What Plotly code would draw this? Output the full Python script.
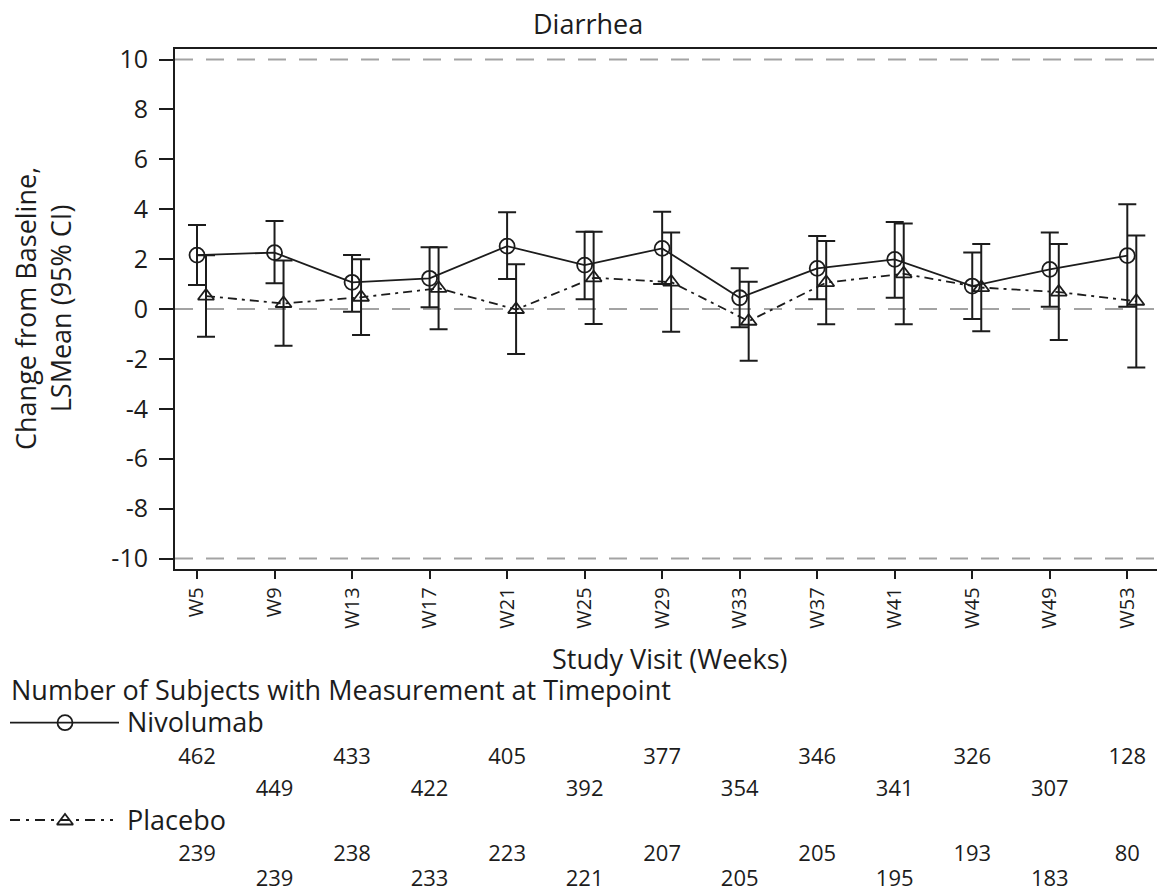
import plotly.graph_objects as go

# ---------------- data ----------------
visits = ["W5", "W9", "W13", "W17", "W21", "W25", "W29", "W33", "W37", "W41", "W45", "W49", "W53"]

nivo_mean = [2.16, 2.26, 1.07, 1.23, 2.52, 1.76, 2.43, 0.45, 1.63, 1.99, 0.92, 1.59, 2.14]
nivo_lower = [0.96, 1.03, -0.11, 0.07, 1.20, 0.39, 1.00, -0.73, 0.39, 0.45, -0.40, 0.09, 0.09]
nivo_upper = [3.37, 3.53, 2.16, 2.47, 3.88, 3.10, 3.90, 1.63, 2.93, 3.49, 2.26, 3.07, 4.20]

pbo_mean = [0.52, 0.22, 0.47, 0.83, -0.02, 1.25, 1.08, -0.49, 1.06, 1.41, 0.86, 0.68, 0.31]
pbo_lower = [-1.11, -1.47, -1.04, -0.81, -1.80, -0.60, -0.91, -2.07, -0.61, -0.61, -0.89, -1.24, -2.34]
pbo_upper = [2.15, 1.94, 1.99, 2.47, 1.79, 3.10, 3.07, 1.09, 2.73, 3.43, 2.61, 2.61, 2.95]

nivo_n = [462, 449, 433, 422, 405, 392, 377, 354, 346, 341, 326, 307, 128]
pbo_n = [239, 239, 238, 233, 223, 221, 207, 205, 205, 195, 193, 183, 80]

y_ticks = [-10, -8, -6, -4, -2, 0, 2, 4, 6, 8, 10]
ref_lines = [10, 0, -10]

# ---------------- layout geometry (pixels) ----------------
W, H = 1157, 894
PX_L, PX_R, PX_T, PX_B = 175, 1157, 49.3, 569.3
X_FIRST_PX, STEP_PX = 197.0, 77.525
Y0_PX, UNIT_PX = 309.0, 24.95
INK = "#1c1c1c"
GRAY = "#a3a3a3"
FONT = "Open Sans"


def pxx(v):
    return v / W


def pxy(v):
    return 1 - v / H


x_range = [(PX_L - X_FIRST_PX) / STEP_PX, (PX_R - X_FIRST_PX) / STEP_PX]
y_range = [(Y0_PX - PX_B) / UNIT_PX, (Y0_PX - PX_T) / UNIT_PX]
offset = 9.0 / STEP_PX

idx = list(range(len(visits)))
idx_pbo = [i + offset for i in idx]

fig = go.Figure()

fig.add_trace(go.Scatter(
    x=idx, y=nivo_mean, mode="lines+markers", name="Nivolumab",
    line=dict(color=INK, width=1.8),
    marker=dict(symbol="circle-open", size=15, color=INK, line=dict(width=1.8)),
    error_y=dict(type="data", symmetric=False,
                 array=[u - m for u, m in zip(nivo_upper, nivo_mean)],
                 arrayminus=[m - l for m, l in zip(nivo_mean, nivo_lower)],
                 color=INK, thickness=2, width=9),
    showlegend=False,
))

fig.add_trace(go.Scatter(
    x=idx_pbo, y=pbo_mean, mode="lines+markers", name="Placebo",
    line=dict(color=INK, width=1.8, dash="9px,5px,3px,5px"),
    marker=dict(symbol="triangle-up-open", size=14, color=INK, line=dict(width=1.8)),
    error_y=dict(type="data", symmetric=False,
                 array=[u - m for u, m in zip(pbo_upper, pbo_mean)],
                 arrayminus=[m - l for m, l in zip(pbo_mean, pbo_lower)],
                 color=INK, thickness=2, width=9),
    showlegend=False,
))

# ---------------- at-risk table ----------------
ROW_Y_NIVO = (758, 790.3)
ROW_Y_PBO = (855.3, 880.5)
fig.add_trace(go.Scatter(
    x=idx, y=[ROW_Y_NIVO[i % 2] for i in idx], text=[str(n) for n in nivo_n],
    mode="text", textfont=dict(family=FONT, size=22, color=INK),
    xaxis="x", yaxis="y4", cliponaxis=False, showlegend=False, hoverinfo="skip",
))
fig.add_trace(go.Scatter(
    x=idx, y=[ROW_Y_PBO[i % 2] for i in idx], text=[str(n) for n in pbo_n],
    mode="text", textfont=dict(family=FONT, size=22, color=INK),
    xaxis="x", yaxis="y4", cliponaxis=False, showlegend=False, hoverinfo="skip",
))

# legend samples (decoration, pixel space)
fig.add_trace(go.Scatter(
    x=[10, 65, 119], y=[722.7, 722.7, 722.7], mode="lines",
    line=dict(color=INK, width=1.8), xaxis="x4", yaxis="y4",
    showlegend=False, hoverinfo="skip"))
fig.add_trace(go.Scatter(
    x=[65], y=[722.7], mode="markers",
    marker=dict(symbol="circle-open", size=15, color=INK, line=dict(width=1.8)),
    xaxis="x4", yaxis="y4", showlegend=False, hoverinfo="skip"))
fig.add_trace(go.Scatter(
    x=[10, 65, 113], y=[820, 820, 820], mode="lines",
    line=dict(color=INK, width=1.8, dash="10px,6px,3px,6px"), xaxis="x4", yaxis="y4",
    showlegend=False, hoverinfo="skip"))
fig.add_trace(go.Scatter(
    x=[65], y=[821], mode="markers",
    marker=dict(symbol="triangle-up-open", size=14, color=INK, line=dict(width=1.8)),
    xaxis="x4", yaxis="y4", showlegend=False, hoverinfo="skip"))

# reference lines
for yv in ref_lines:
    fig.add_shape(type="line", xref="paper", yref="y",
                  x0=pxx(PX_L), x1=1, y0=yv, y1=yv,
                  line=dict(color=GRAY, width=2, dash="18px,13px"), layer="below")

annotations = [
    dict(text="Diarrhea", x=pxx(588), y=pxy(24), xanchor="center", yanchor="middle",
         font=dict(size=27)),
    dict(text="Study Visit (Weeks)", x=pxx(670), y=pxy(658), xanchor="center", yanchor="middle",
         font=dict(size=27)),
    dict(text="Change from Baseline,<br>LSMean (95% CI)", x=pxx(43), y=pxy(309),
         xanchor="center", yanchor="middle", textangle=-90, font=dict(size=27)),
    dict(text="Number of Subjects with Measurement at Timepoint", x=pxx(9), y=pxy(689.7),
         xanchor="left", yanchor="middle", font=dict(size=27)),
    dict(text="Nivolumab", x=pxx(125), y=pxy(721.3), xanchor="left", yanchor="middle",
         font=dict(size=27)),
    dict(text="Placebo", x=pxx(125), y=pxy(819), xanchor="left", yanchor="middle",
         font=dict(size=27)),
]
for a in annotations:
    a.update(xref="paper", yref="paper", showarrow=False)
    a["font"].update(family=FONT, color=INK)

fig.update_layout(
    template="none",
    width=W, height=H, autosize=False,
    margin=dict(l=0, r=0, t=0, b=0, pad=0),
    paper_bgcolor="white", plot_bgcolor="rgba(0,0,0,0)",
    font=dict(family=FONT, color=INK),
    annotations=annotations,
    xaxis=dict(domain=[pxx(PX_L), 1], range=x_range, anchor="y", automargin=False,
               tickmode="array", tickvals=idx, ticktext=visits, tickangle=-90,
               ticks="outside", ticklen=8, tickwidth=2, tickcolor=INK,
               showline=True, linecolor=INK, linewidth=2, mirror=True,
               showgrid=False, zeroline=False,
               tickfont=dict(family=FONT, size=20, color=INK)),
    yaxis=dict(domain=[pxy(PX_B), pxy(PX_T)], range=y_range, anchor="x", automargin=False,
               tickmode="array", tickvals=y_ticks, ticktext=[str(v) for v in y_ticks],
               ticks="outside", ticklen=14, tickwidth=2, tickcolor=INK,
               showline=True, linecolor=INK, linewidth=2,
               showgrid=False, zeroline=False, ticklabelstandoff=6,
               tickfont=dict(family=FONT, size=25, color=INK)),
    xaxis4=dict(domain=[0, 1], range=[0, W], visible=False, anchor="y4",
                fixedrange=True, automargin=False),
    yaxis4=dict(domain=[0, 1], range=[H, 0], visible=False, anchor="x4",
                fixedrange=True, automargin=False),
)

fig.write_html("out.html")
